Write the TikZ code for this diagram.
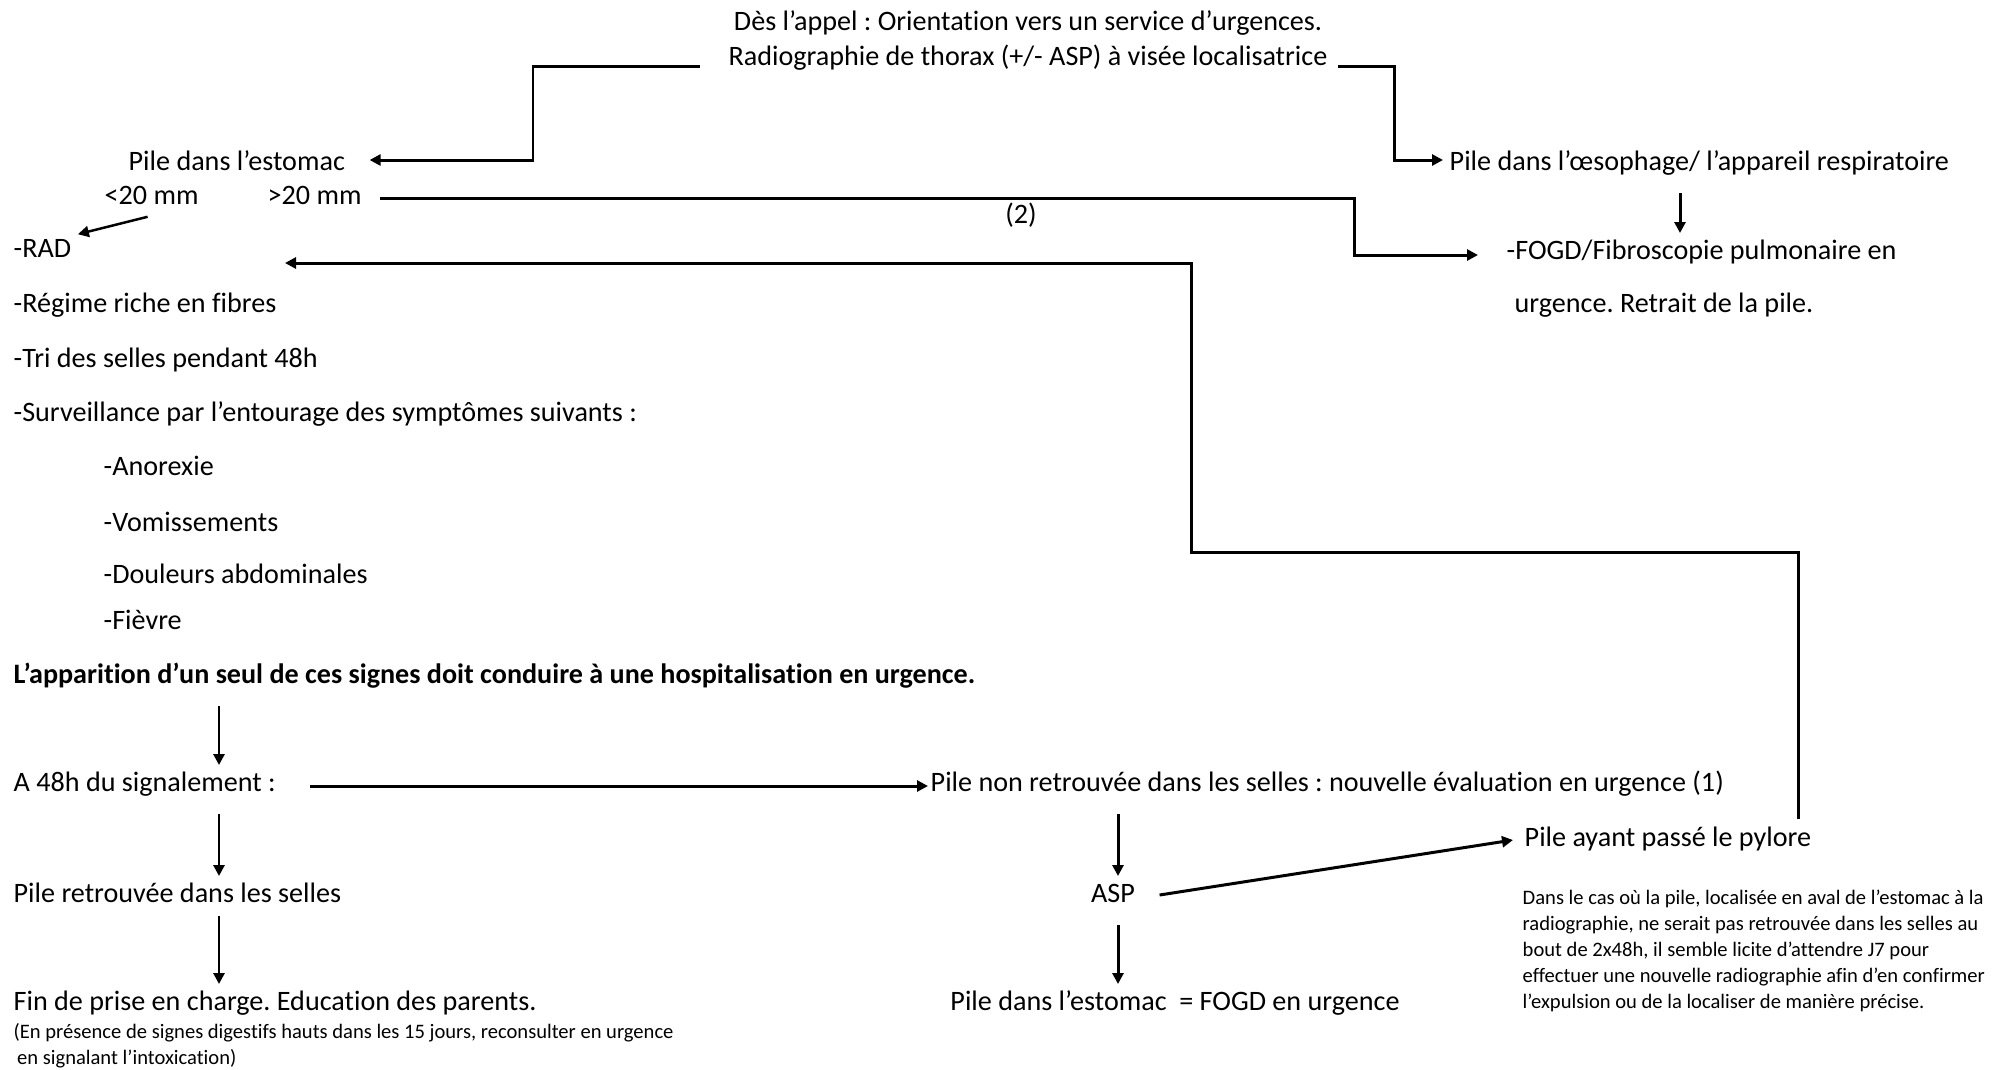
\documentclass[tikz,border=0pt]{standalone}
\usepackage{fontspec}
\setmainfont{Carlito}[Ligatures=CommonOff]
\usetikzlibrary{arrows.meta}
\frenchspacing

\begin{document}
\begin{tikzpicture}[
  x=0.01cm,y=-0.01cm,
  every node/.style={inner sep=0pt},
  txt/.style={anchor=west,text height=6pt,text depth=2pt,
    font=\fontsize{8}{9.6}\selectfont},
  mid/.style={txt,anchor=center},
  note/.style={anchor=west,align=left,font=\fontsize{5.85}{7.4}\selectfont},
  arrow/.style={-{Triangle[length=1.1mm,width=1.1mm]},line width=.85pt},
  down/.style={arrow,shorten <=4.4pt,shorten >=1.2pt}
]
  \useasboundingbox (0,0) rectangle (1993,1069);

  \node[mid] (appel) at (1028,23)
    {Dès l’appel : Orientation vers un service d’urgences.};
  \node[mid] (radio) at (1028,58)
    {Radiographie de thorax (+/- ASP) à visée localisatrice};

  \node[txt] (estomac) at (128,163) {Pile dans l’estomac};
  \node[txt] (lt) at (104,197) {<20 mm};
  \node[txt] (gt) at (267,197) {>20 mm};
  \node[mid] (two) at (1021,216) {(2)};
  \node[txt] (oeso) at (1449,163) {Pile dans l’œsophage/ l’appareil respiratoire};
  \node[txt] (fogdA) at (1506,252) {-FOGD/Fibroscopie pulmonaire en};
  \node[txt] (fogdB) at (1514,305) {urgence. Retrait de la pile.};

  \node[txt] (rad) at (13,250) {-RAD};
  \node[txt] (regime) at (13,305) {-Régime riche en fibres};
  \node[txt] (tri) at (13,360) {-Tri des selles pendant 48h};
  \node[txt] (surv) at (13,414)
    {-Surveillance par l’entourage des symptômes suivants :};
  \node[txt] (anorexie) at (103,468) {-Anorexie};
  \node[txt] (vomi) at (103,524) {-Vomissements};
  \node[txt] (douleur) at (103,576) {-Douleurs abdominales};
  \node[txt] (fievre) at (103,622) {-Fièvre};
  \node[txt,font=\fontsize{8}{9.6}\selectfont\bfseries] (alerte) at (13,676)
    {L’apparition d’un seul de ces signes doit conduire à une hospitalisation en urgence.};

  \node[txt] (quarante) at (13,784) {A 48h du signalement :};
  \node[txt] (nonret) at (930,784)
    {Pile non retrouvée dans les selles : nouvelle évaluation en urgence (1)};
  \node[txt] (retrouvee) at (13,895) {Pile retrouvée dans les selles};
  \node[txt] (fin) at (13,1003) {Fin de prise en charge. Education des parents.};
  \node[note] (finnote) at (13,1046)
    {(En présence de signes digestifs hauts dans les 15 jours, reconsulter en urgence\\
     \,en signalant l’intoxication)};
  \node[mid] (asp) at (1113,895) {ASP};
  \node[txt] (pylore) at (1524,839) {Pile ayant passé le pylore};
  \node[mid] (estfogd) at (1175,1003) {Pile dans l’estomac \ = FOGD en urgence};
  \node[note] (pylnote) at (1522,951)
    {Dans le cas où la pile, localisée en aval de l’estomac à la\\
     radiographie, ne serait pas retrouvée dans les selles au\\
     bout de 2x48h, il semble licite d’attendre J7 pour\\
     effectuer une nouvelle radiographie afin d’en confirmer\\
     l’expulsion ou de la localiser de manière précise.};

  \coordinate (gauche) at (533,66);
  \coordinate (droite) at (1394,66);
  \coordinate (coude) at (1354,198);
  \coordinate (pli) at (1191,552);
  \coordinate (retour) at (285,263);
  \coordinate (colL) at (219,0);
  \coordinate (colM) at (1118,0);
  \coordinate (colR) at (1680,0);

  \draw[arrow] ([shift={(-28,8)}]radio.west) -- (gauche)
    |- ([shift={(24,-3)}]estomac.east);
  \draw[arrow] ([shift={(10,8)}]radio.east) -- (droite)
    |- ([shift={(-6,-3)}]oeso.west);
  \draw[arrow] ([shift={(18,1)}]gt.east) -- (coude)
    |- ([shift={(-28,3)}]fogdA.west);
  \draw[arrow,line width=.7pt] ([shift={(-4,5)}]lt.south)
    -- ([shift={(6,-1)}]rad.north east);
  \draw[arrow] ([shift={(-13,-5)}]pylore.north east) |- (pli) |- (retour);
  \draw[down] (colR |- oeso.south) -- (colR |- fogdA.north);

  \draw[down] (colL |- alerte.south) -- (colL |- quarante.north);
  \draw[down] (colL |- quarante.south) -- (colL |- retrouvee.north);
  \draw[down,shorten <=1.7pt] (colL |- retrouvee.south) -- (colL |- fin.north);
  \draw[arrow] ([shift={(34,2)}]quarante.east) -- ([shift={(-2,2)}]nonret.west);

  \draw[down] (colM |- nonret.south) -- (colM |- asp.north);
  \draw[down] (colM |- asp.south) -- (colM |- estfogd.north);
  \draw[arrow] ([shift={(24,0)}]asp.east) -- ([shift={(-11,1)}]pylore.west);
\end{tikzpicture}
\end{document}
